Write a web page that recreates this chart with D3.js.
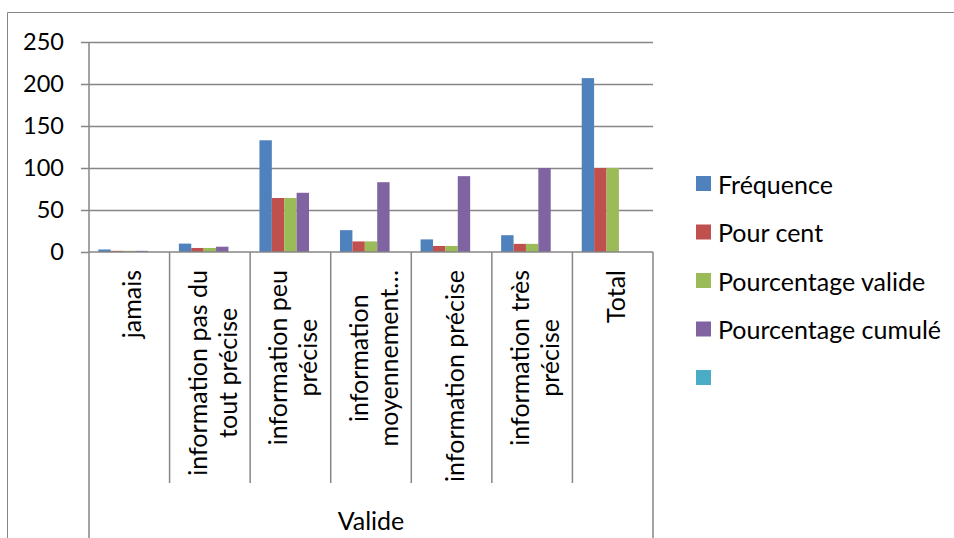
<!DOCTYPE html>
<html>
<head>
<meta charset="utf-8">
<title>Valide</title>
<script src="https://d3js.org/d3.v7.min.js"></script>
<style>
  body { margin: 0; background: #fff; }
  svg { display: block; font-family: Lato, "Open Sans", sans-serif; }
</style>
</head>
<body>
<div id="chart"></div>
<script>
// categories and their wrapped labels (as shown on the axis)
const categories = ["jamais", "information pas du tout précise", "information peu précise",
    "information moyennement précise", "information précise", "information très précise", "Total"];
const categoryLines = [
    ["jamais"],
    ["information pas du", "tout précise"],
    ["information peu", "précise"],
    ["information", "moyennement…"],
    ["information précise"],
    ["information très", "précise"],
    ["Total"]
];
const groupLabel = "Valide";

// series
const seriesNames = ["Fréquence", "Pour cent", "Pourcentage valide", "Pourcentage cumulé", ""];
const frequence = [3, 10, 133, 26, 15, 20, 207];
const pourCent = [1.4, 4.8, 64.3, 12.6, 7.2, 9.7, 100];
const pourcentageValide = [1.4, 4.8, 64.3, 12.6, 7.2, 9.7, 100];
const pourcentageCumule = [1.4, 6.3, 70.5, 83.1, 90.3, 100, null];
const emptySeries = [null, null, null, null, null, null, null];
const yTicks = [0, 50, 100, 150, 200, 250];

const colors = ["#4F81BD", "#C0504D", "#9BBB59", "#8064A2", "#4BACC6"];
const seriesValues = [frequence, pourCent, pourcentageValide, pourcentageCumule, emptySeries];

const width = 954, height = 538;
const plot = { left: 89, right: 653, top: 42, bottom: 252 };
const axisColor = "#868686";
const fontSize = 25;

const svg = d3.select("#chart")
    .append("svg")
    .attr("width", width)
    .attr("height", height);

svg.append("rect").attr("width", width).attr("height", height).attr("fill", "#fff");

// chart area frame (only top and left are visible)
svg.append("path")
    .attr("d", `M7.5,${height}V12.5H${width}`)
    .attr("fill", "none")
    .attr("stroke", axisColor);

const x = d3.scaleBand()
    .domain(categories)
    .range([plot.left, plot.right]);

const y = d3.scaleLinear()
    .domain([0, 250])
    .range([plot.bottom, plot.top]);

// 5 slots per category (the last series is empty), gap width 150%
const xSub = d3.scaleBand()
    .domain(d3.range(seriesNames.length))
    .range([0, x.bandwidth()])
    .paddingInner(0)
    .paddingOuter(0.75);

//Gridlines
svg.append("g")
    .attr("transform", `translate(${plot.left},0)`)
    .call(d3.axisLeft(y).tickValues(yTicks.slice(1)).tickSize(-(plot.right - plot.left)).tickFormat(""))
    .call(g => g.select(".domain").remove())
    .selectAll("line")
    .attr("stroke", axisColor)
    .attr("stroke-width", 1.5);

//Y axis
const yAxis = svg.append("g")
    .attr("transform", `translate(${plot.left},0)`)
    .call(d3.axisLeft(y).tickValues(yTicks).tickSize(8).tickPadding(17))
    .attr("font-family", null)
    .attr("font-size", 23.5);
yAxis.select(".domain").remove();
yAxis.selectAll("line").attr("stroke", axisColor).attr("stroke-width", 1.5);
yAxis.selectAll("text").attr("fill", "#000");

svg.append("line")
    .attr("x1", plot.left).attr("x2", plot.left)
    .attr("y1", plot.top).attr("y2", height)
    .attr("stroke", axisColor).attr("stroke-width", 1.5);

//Bars
svg.append("g")
    .selectAll("g")
    .data(categories)
    .join("g")
    .attr("transform", c => `translate(${x(c)},0)`)
    .selectAll("rect")
    .data((c, ci) => seriesValues.map((vals, si) => ({ si, value: vals[ci] })).filter(d => d.value != null))
    .join("rect")
    .attr("x", d => xSub(d.si))
    .attr("y", d => y(d.value))
    .attr("width", xSub.bandwidth())
    .attr("height", d => y(0) - y(d.value))
    .attr("fill", d => colors[d.si]);

//Category axis line and separators
svg.append("line")
    .attr("x1", plot.left).attr("x2", plot.right)
    .attr("y1", plot.bottom).attr("y2", plot.bottom)
    .attr("stroke", axisColor).attr("stroke-width", 1.5);

svg.append("g")
    .selectAll("line")
    .data(categories.slice(1))
    .join("line")
    .attr("x1", c => x(c)).attr("x2", c => x(c))
    .attr("y1", plot.bottom).attr("y2", 483)
    .attr("stroke", axisColor).attr("stroke-width", 1.5);

svg.append("line")
    .attr("x1", plot.right).attr("x2", plot.right)
    .attr("y1", plot.bottom).attr("y2", height)
    .attr("stroke", axisColor).attr("stroke-width", 1.5);

//Category labels, rotated, ending near the axis
const lineHeight = 30;
svg.append("g")
    .selectAll("text")
    .data(categories)
    .join("text")
    .attr("font-size", fontSize)
    .attr("text-anchor", "middle")
    .each(function (c, i) {
        const t = d3.select(this);
        const lines = categoryLines[i];
        lines.forEach((ln, j) => {
            t.append("tspan")
                .attr("x", 0)
                .attr("y", (j - (lines.length - 1) / 2) * lineHeight)
                .attr("dominant-baseline", "central")
                .text(ln);
        });
        const maxLen = d3.max(t.selectAll("tspan").nodes(), n => n.getComputedTextLength());
        t.attr("transform", `translate(${x(c) + x.bandwidth() / 2 + 2},${270 + maxLen / 2}) rotate(-90)`);
    });

svg.append("text")
    .attr("x", (plot.left + plot.right) / 2)
    .attr("y", 530)
    .attr("text-anchor", "middle")
    .attr("font-size", fontSize)
    .text(groupLabel);

//Legend
const legend = svg.append("g")
    .selectAll("g")
    .data(seriesNames)
    .join("g")
    .attr("transform", (d, i) => `translate(696,${183.5 + i * 48.5})`);
legend.append("rect")
    .attr("y", -7.5)
    .attr("width", 15).attr("height", 15)
    .attr("fill", (d, i) => colors[i]);
legend.append("text")
    .attr("x", 22)
    .attr("dominant-baseline", "central")
    .attr("font-size", fontSize)
    .text(d => d);
</script>
</body>
</html>
